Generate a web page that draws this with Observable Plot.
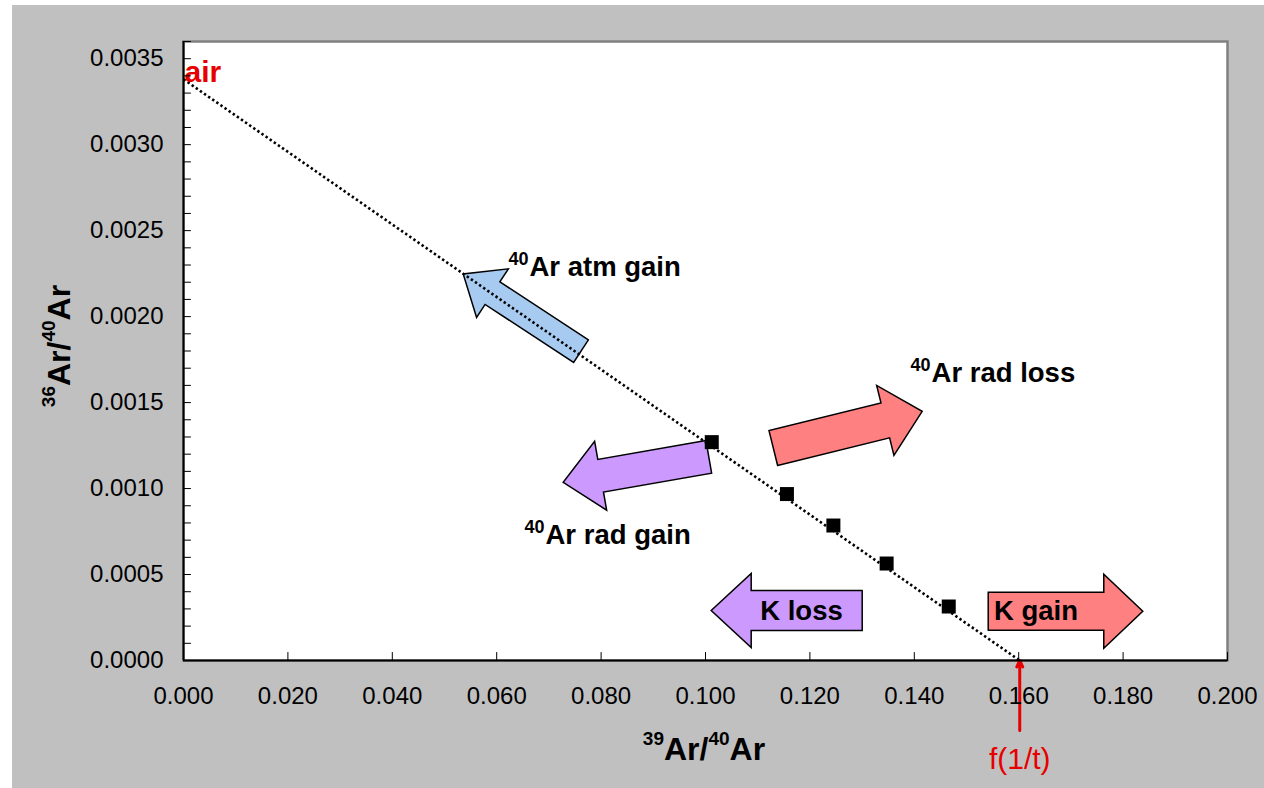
<!DOCTYPE html>
<html>
<head>
<meta charset="utf-8">
<script src="https://cdn.jsdelivr.net/npm/d3@7"></script>
<script src="https://cdn.jsdelivr.net/npm/@observablehq/plot@0.6"></script>
<style>
  html, body { margin: 0; padding: 0; background: #ffffff; overflow: hidden; }
  #chart { position: absolute; left: 12px; top: 5px; width: 1252px; }
</style>
</head>
<body>
<div id="chart"></div>
<script>
// ---- data ----
const xTicks = [0, 0.02, 0.04, 0.06, 0.08, 0.10, 0.12, 0.14, 0.16, 0.18, 0.20];
const yTicks = [0, 0.0005, 0.0010, 0.0015, 0.0020, 0.0025, 0.0030, 0.0035];
const yMinorTicks = d3.range(0, 37).map(i => i / 10000);

const ratio39 = [0.1012, 0.1156, 0.1245, 0.1347, 0.1466];
const ratio36 = [0.001270, 0.000968, 0.000785, 0.000564, 0.000314];

const airRatio = 0.00338;     // 36Ar/40Ar of air (y intercept)
const xIntercept = 0.1602;    // f(1/t)

// block arrows: tail -> tip, in data units
const arrowNames = ["atm gain", "rad gain", "rad loss", "K loss", "K gain"];
const arrowTailX = [0.07615, 0.10063, 0.11299, 0.13002, 0.15416];
const arrowTailY = [0.0017994, 0.0011843, 0.0012355, 0.0002907, 0.000286];
const arrowTipX  = [0.05358, 0.07274, 0.14151, 0.10109, 0.18377];
const arrowTipY  = [0.002248, 0.0010366, 0.0014494, 0.0002907, 0.000286];
const arrowFill  = ["#a6caf0", "#cc99ff", "#ff8080", "#cc99ff", "#ff8080"];
const arrowShaft = [27, 33, 36, 40, 38];
const arrowHeadW = [58, 70, 72, 74, 74];
const arrowHeadL = [35, 38, 38, 40, 39];

// labels with superscript 40
const supLabels = ["Ar atm gain", "Ar rad gain", "Ar rad loss"];
const supLabelX = [0.06628, 0.06935, 0.14330];
const supLabelY = [0.002289, 0.000730, 0.001673];
const kLabels = ["K loss", "K gain"];
const kLabelX = [0.11839, 0.16331];
const kLabelY = [0.000288, 0.000288];

// ---- layout ----
const W = 1252, H = 783;
const mL = 171, mT = 36, mR = 37, mB = 128;
const xDomain = [0, 0.2], yDomain = [0, 0.0036];
const kx = (W - mL - mR) / (xDomain[1] - xDomain[0]);
const ky = (H - mT - mB) / (yDomain[1] - yDomain[0]);
const font = "'Liberation Sans', Arial, Helvetica, sans-serif";
const red = "#e60000";

function blockArrow(i) {
  const x1 = arrowTailX[i], y1 = arrowTailY[i];
  const dx = (arrowTipX[i] - x1) * kx, dy = -(arrowTipY[i] - y1) * ky;
  const L = Math.hypot(dx, dy), ux = dx / L, uy = dy / L, nx = -uy, ny = ux;
  const b = L - arrowHeadL[i], s = arrowShaft[i] / 2, h = arrowHeadW[i] / 2;
  const pts = [[0, s], [b, s], [b, h], [L, 0], [b, -h], [b, -s], [0, -s], [0, s]];
  return pts.map(([a, t]) => {
    const px = ux * a + nx * t, py = uy * a + ny * t;
    return {x: x1 + px / kx, y: y1 - py / ky};
  });
}

const points = ratio39.map((x, i) => ({x, y: ratio36[i]}));
const tickShape = {draw(context, l) { context.moveTo(0, 0); context.lineTo(0, -l); }};

const marks = [
  Plot.frame({fill: "white", stroke: "#808080", strokeWidth: 2.5}),
  ...arrowNames.map((n, i) => Plot.line(blockArrow(i), {
    x: "x", y: "y", fill: arrowFill[i], stroke: "black", strokeWidth: 1.5,
    strokeLinejoin: "miter", strokeMiterlimit: 10, curve: "linear"
  })),
  Plot.line([{x: 0, y: airRatio}, {x: xIntercept, y: 0}], {
    x: "x", y: "y", stroke: "black", strokeWidth: 2.6, strokeDasharray: "2.4 2.6", strokeLinecap: "butt"
  }),
  Plot.dot(points, {x: "x", y: "y", symbol: "square", r: 7.9, fill: "black", stroke: "none"}),
  // superscripted labels
  Plot.text(supLabels, {x: (d, i) => supLabelX[i], y: (d, i) => supLabelY[i], text: d => d,
    textAnchor: "start", fontSize: 27.5, fontWeight: "bold", fill: "black", fontFamily: font}),
  Plot.text(supLabels, {x: (d, i) => supLabelX[i], y: (d, i) => supLabelY[i], text: () => "40",
    textAnchor: "end", fontSize: 18, fontWeight: "bold", dy: -8, dx: -1, fill: "black", fontFamily: font}),
  Plot.text(kLabels, {x: (d, i) => kLabelX[i], y: (d, i) => kLabelY[i], text: d => d,
    textAnchor: "middle", fontSize: 27.5, fontWeight: "bold", fill: "black", fontFamily: font}),
  // air
  Plot.text(["air"], {x: 0, y: 0.003423, text: d => d, textAnchor: "start", dx: 1,
    fontSize: 30, fontWeight: "bold", fill: red, fontFamily: font}),
  // f(1/t)
  Plot.arrow([{x1: xIntercept, y1: -0.000407, x2: xIntercept, y2: 0}], {
    x1: "x1", y1: "y1", x2: "x2", y2: "y2", stroke: red, strokeWidth: 3, headLength: 3.5, headAngle: 50
  }),
  Plot.text(["f(1/t)"], {x: xIntercept, y: -0.000576, text: d => d, textAnchor: "middle",
    fontSize: 30, fill: red, fontFamily: font}),
  // axes lines
  Plot.ruleX([0], {stroke: "black", strokeWidth: 2}),
  Plot.ruleY([0], {stroke: "black", strokeWidth: 2}),
  // inward ticks
  Plot.vector(yMinorTicks, {x: 0, y: d => d, length: 7, rotate: 90, anchor: "start",
    shape: tickShape, stroke: "black", strokeWidth: 1}),
  Plot.vector(xTicks, {x: d => d, y: 0, length: 8, rotate: 0, anchor: "start",
    shape: tickShape, stroke: "black", strokeWidth: 1}),
  Plot.axisX(xTicks, {tickSize: 0, tickPadding: 26, tickFormat: d3.format(".3f"),
    fontSize: 24, label: null, fill: "black"}),
  Plot.axisY(yTicks, {tickSize: 0, tickPadding: 20, tickFormat: d3.format(".4f"),
    fontSize: 24, label: null, fill: "black"})
];

const svg = Plot.plot({
  width: W, height: H,
  marginLeft: mL, marginTop: mT, marginRight: mR, marginBottom: mB,
  x: {domain: xDomain},
  y: {domain: yDomain},
  style: {background: "#c0c0c0", fontFamily: font, color: "black", overflow: "visible"},
  marks
});
document.getElementById("chart").appendChild(svg);

// axis titles with superscripts
const s = d3.select(svg);
function title(g, parts) {
  const t = g.append("text").attr("text-anchor", "middle").attr("font-family", font)
    .attr("font-weight", "bold").attr("fill", "black");
  let raised = false;
  parts.forEach(([txt, sup]) => {
    const ts = t.append("tspan").text(txt).attr("font-size", sup ? 19 : 32);
    if (sup && !raised) { ts.attr("dy", -15); raised = true; }
    else if (!sup && raised) { ts.attr("dy", 15); raised = false; }
  });
  return t;
}
const parts = [["39", true], ["Ar/", false], ["40", true], ["Ar", false]];
const gx = s.append("g").attr("transform", `translate(${(mL + W - mR) / 2 - 1},${760 - 5})`);
title(gx, parts);
const gy = s.append("g").attr("transform", `translate(${70 - 12},${346 - 5}) rotate(-90)`);
title(gy, [["36", true], ["Ar/", false], ["40", true], ["Ar", false]]);
</script>
</body>
</html>
